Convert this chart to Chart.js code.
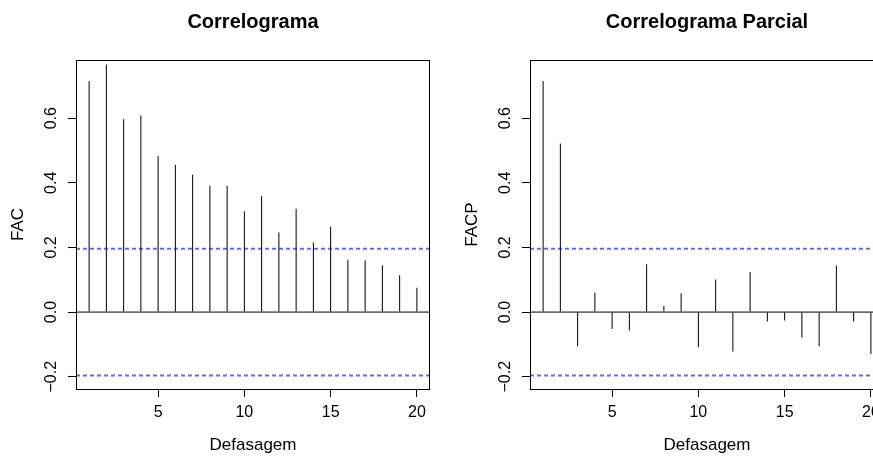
<!DOCTYPE html>
<html>
<head>
<meta charset="utf-8">
<script src="https://cdn.jsdelivr.net/npm/chart.js@4/dist/chart.umd.min.js"></script>
<style>
  body { margin: 0; background: #fff; }
  #wrap { position: relative; width: 873px; height: 457px; overflow: hidden; }
  canvas { position: absolute; top: 0; }
</style>
</head>
<body>
<div id="wrap">
  <canvas id="chFac" width="436" height="457" style="left:0px"></canvas>
  <canvas id="chFacp" width="436" height="457" style="left:454px"></canvas>
</div>
<script>
// lags and values
const lags = [1, 2, 3, 4, 5, 6, 7, 8, 9, 10, 11, 12, 13, 14, 15, 16, 17, 18, 19, 20];
const fac = [0.715, 0.766, 0.597, 0.608, 0.483, 0.456, 0.425, 0.391, 0.391, 0.312,
             0.359, 0.246, 0.320, 0.215, 0.264, 0.162, 0.160, 0.145, 0.114, 0.075];
const facp = [0.715, 0.522, -0.106, 0.060, -0.052, -0.057, 0.148, 0.019, 0.058, -0.109,
              0.101, -0.122, 0.124, -0.029, -0.026, -0.079, -0.106, 0.144, -0.029, -0.130];
const ciLimit = 0.196;   // blue dashed band
const xTicks = [5, 10, 15, 20];
const yTicks = [-0.2, 0, 0.2, 0.4, 0.6];
const xRange = [0.24, 20.76];
const yRange = [-0.238, 0.780];

Chart.defaults.font.family = "'Liberation Sans', Arial, sans-serif";
Chart.defaults.color = '#000';

// frame around the plot region, like R's box()
const boxPlugin = {
  id: 'box',
  afterDraw(chart) {
    const a = chart.chartArea;
    const ctx = chart.ctx;
    ctx.save();
    ctx.strokeStyle = '#000';
    ctx.lineWidth = 1;
    ctx.strokeRect(Math.round(a.left) + 0.5, Math.round(a.top) + 0.5,
      Math.round(a.right - a.left) - 1, Math.round(a.bottom - a.top));
    ctx.restore();
  }
};

function hline(y, color, width, dash) {
  return {
    type: 'line',
    data: [{ x: xRange[0], y: y }, { x: xRange[1], y: y }],
    borderColor: color,
    borderWidth: width,
    borderDash: dash,
    pointRadius: 0,
    order: 0
  };
}

function fmtTick(v) {
  return (v < 0 ? '\u2212' : '') + Math.abs(v).toFixed(1);
}

function makeChart(id, title, yTitle, values) {
  new Chart(document.getElementById(id), {
    type: 'bar',
    data: {
      datasets: [
        {
          data: lags.map((l, i) => ({ x: l, y: values[i] })),
          backgroundColor: '#000',
          borderWidth: 0,
          barThickness: 1,
          inflateAmount: 0,
          order: 1
        },
        hline(0, '#000', 1, []),
        hline(ciLimit, 'rgba(0,0,255,0.6)', 2, [4, 3]),
        hline(-ciLimit, 'rgba(0,0,255,0.6)', 2, [4, 3])
      ]
    },
    options: {
      responsive: false,
      devicePixelRatio: 1,
      animation: false,
      layout: { padding: { left: 0, right: 6, top: 0, bottom: 0 } },
      plugins: {
        legend: { display: false },
        tooltip: { enabled: false },
        title: {
          display: true,
          text: title,
          fullSize: false,
          color: '#000',
          font: { size: 20, weight: 'bold', lineHeight: 1.2 },
          padding: { top: 10, bottom: 26 }
        }
      },
      scales: {
        x: {
          type: 'linear',
          min: xRange[0],
          max: xRange[1],
          offset: false,
          afterBuildTicks: s => { s.ticks = xTicks.map(v => ({ value: v })); },
          afterFit: s => { s.height = 68; },
          ticks: { font: { size: 16 }, padding: 6, maxRotation: 0, color: '#000' },
          grid: { offset: false, drawOnChartArea: false, tickLength: 8, color: '#000' },
          border: { display: false },
          title: { display: true, text: 'Defasagem', font: { size: 17 }, padding: { top: 0, bottom: 1 } }
        },
        y: {
          min: yRange[0],
          max: yRange[1],
          afterBuildTicks: s => { s.ticks = yTicks.map(v => ({ value: v })); },
          afterFit: s => { s.width = 76; },
          ticks: {
            font: { size: 16 },
            minRotation: 90,
            maxRotation: 90,
            crossAlign: 'center',
            padding: 1,
            color: '#000',
            callback: v => fmtTick(v)
          },
          grid: { drawOnChartArea: false, tickLength: 8, color: '#000' },
          border: { display: false },
          title: { display: true, text: yTitle, font: { size: 17 }, padding: { top: 8, bottom: 0 } }
        }
      }
    },
    plugins: [boxPlugin]
  });
}

makeChart('chFac', 'Correlograma', 'FAC', fac);
makeChart('chFacp', 'Correlograma Parcial', 'FACP', facp);
</script>
</body>
</html>
